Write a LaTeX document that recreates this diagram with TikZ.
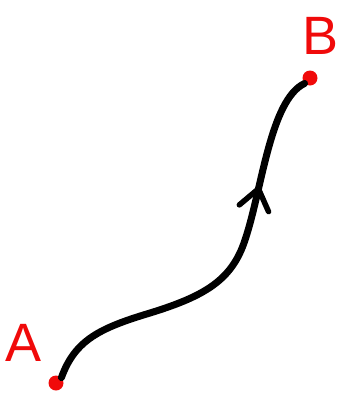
\documentclass[tikz,border=0pt]{standalone}
\usepackage{fontspec}
\setmainfont{Liberation Sans}
\usepackage{tikz}
\usetikzlibrary{arrows.meta,decorations.markings}
\definecolor{penred}{RGB}{240,10,10}
\tikzset{
  dot/.style={circle, fill=penred, inner sep=0pt, minimum size=15pt},
  lbl/.style={text=penred, font=\fontsize{54}{54}\selectfont, inner sep=0pt},
  pathline/.style={line width=7pt, line cap=round, draw=black,
    postaction={decorate}, decoration={markings,
      mark=at position 0.72 with {\arrow{Straight Barb[length=20pt, width=30pt, line width=5.5pt, round]}}}},
}
\begin{document}
\begin{tikzpicture}[x=1pt, y=-1pt]
    \useasboundingbox (0,0) rectangle (339,400);
    \node[dot] (A) at (56,383) {};
    \node[dot] (B) at (310,78) {};
    \node[lbl] (la) at (24,343) {A};
    \node[lbl] (lb) at (321,36) {B};
    \draw[pathline] (A.north east) .. controls (75,340) and (100,328) .. (150,313)
      .. controls (205,296) and (232,280) .. (245,240)
      .. controls (262,190) and (270,100) .. (B.south west);
  \end{tikzpicture}
\end{document}
